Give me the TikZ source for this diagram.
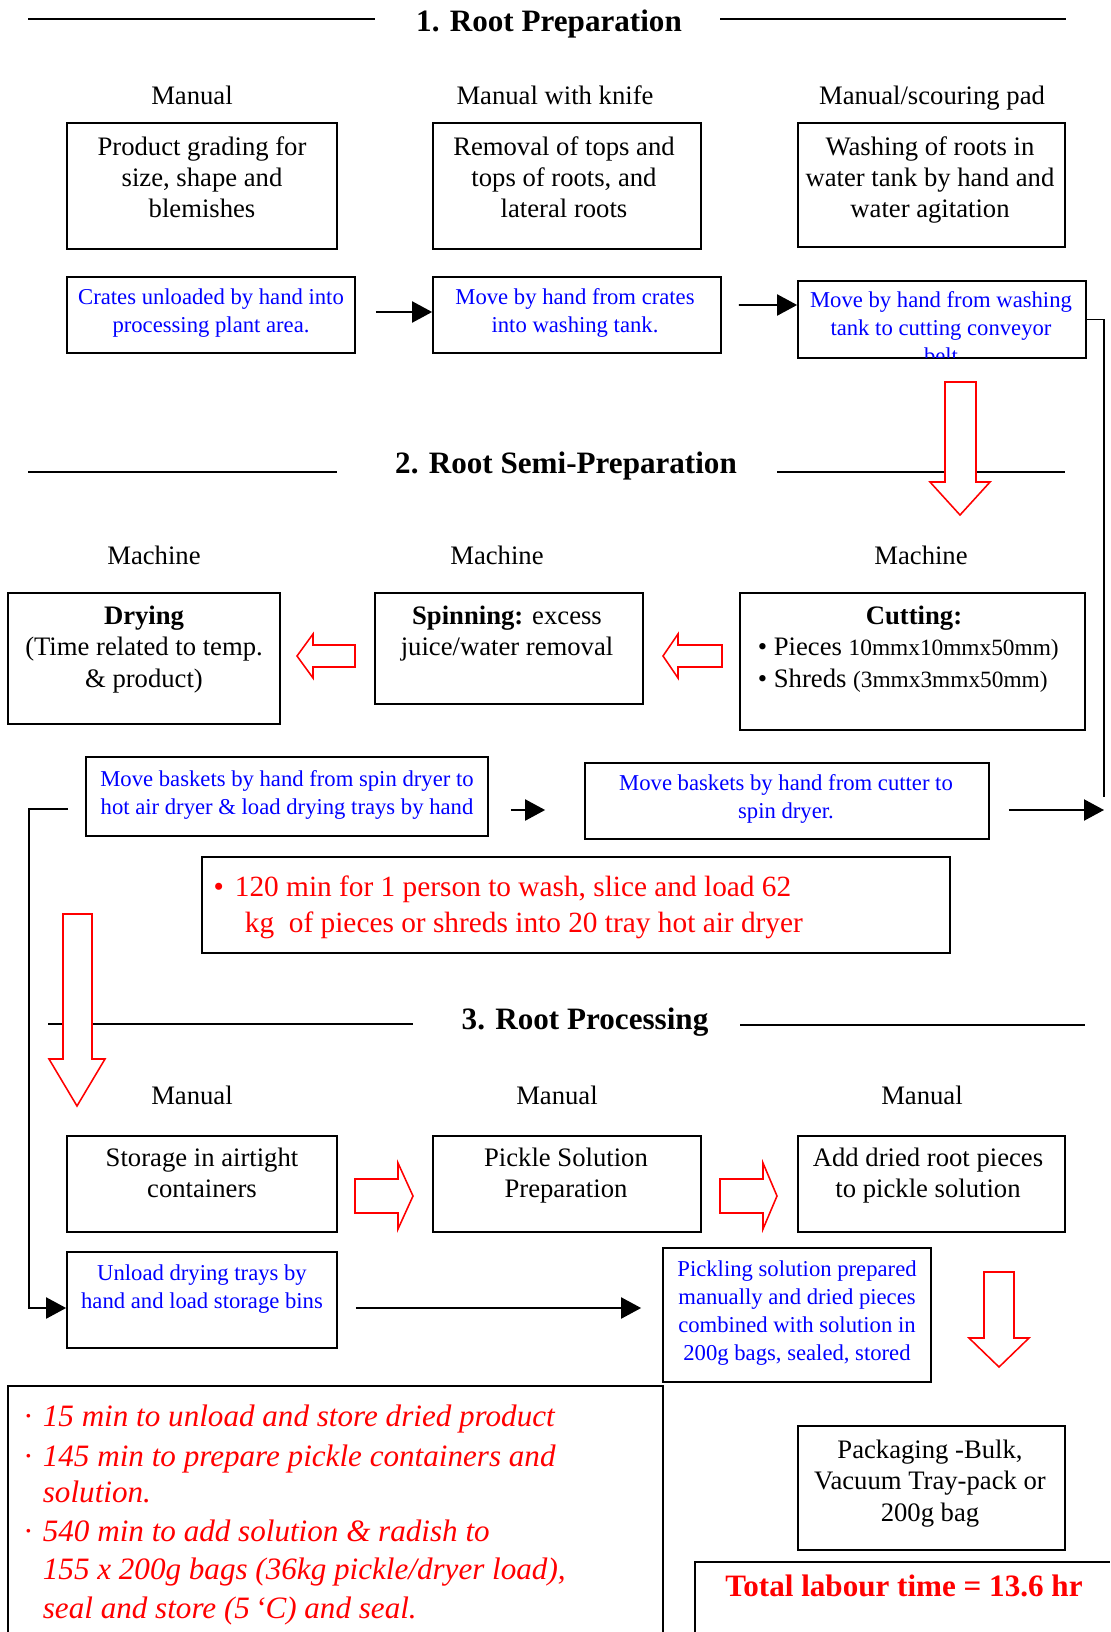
\documentclass[tikz,border=0pt]{standalone}
\usepackage{fontspec}
\setmainfont{Liberation Serif}
\usetikzlibrary{positioning,fit,calc,arrows.meta}

\begin{document}
\begin{tikzpicture}[x=0.45pt, y=-0.45pt, line width=0.8pt,
        box/.style = {draw, inner sep=0pt},
        arr/.style = {-{Triangle[length=9pt, width=9.5pt]}},
        hollow/.style = {draw=red, line width=0.7pt, fill=white},
        head/.style = {font=\fontsize{14}{16}\selectfont\bfseries, inner sep=0pt, anchor=base},
        tag/.style = {font=\fontsize{12}{14}\selectfont, inner sep=0pt, anchor=base},
        main/.style = {font=\fontsize{12}{14}\selectfont, align=center, inner sep=0pt, anchor=north, yshift=7.9pt, execute at begin node=\strut},
        move/.style = {font=\fontsize{10.2}{12.6}\selectfont, text=blue, align=center, inner sep=0pt, anchor=north, yshift=7.4pt, execute at begin node=\strut},
        note/.style = {text=red, align=left, inner sep=0pt, anchor=north west, execute at begin node=\strut}]

    \useasboundingbox (0,0) rectangle (1110,1632);

    \node[head] (sec1) at (549,32) {1. Root Preparation};
    \draw (28,19) -- (375,19);
    \draw (720,19) -- (1066,19);

    \node[tag] (how1) at (192,105) {Manual};
    \node[tag] (how2) at (555,105) {Manual with knife};
    \node[tag] (how3) at (932,105) {Manual/scouring pad};

    \node[box, fit={(67,123) (337,249)}] (grade) {};
    \node[box, fit={(433,123) (701,249)}] (tops) {};
    \node[box, fit={(798,123) (1065,247)}] (wash) {};
    \node[main] (gradet) at (202,153) {Product grading for\\size, shape and\\blemishes};
    \node[main] (topst) at (564,153) {Removal of tops and\\tops of roots, and\\lateral roots};
    \node[main] (washt) at (930,153) {Washing of roots in\\water tank by hand and\\water agitation};

    \node[box, fit={(67,277) (355,353)}] (crates) {};
    \node[box, fit={(433,277) (721,353)}] (tank) {};
    \node[box, fit={(798,281) (1086,358)}] (belt) {};
    \node[move] (cratest) at (211,304) {Crates unloaded by hand into\\processing plant area.};
    \node[move] (tankt) at (575,304) {Move by hand from crates\\into washing tank.};
    \begin{scope}
        \clip (belt.north west) rectangle ($(belt.south east)+(0,-1)$);
        \node[move] (beltt) at (941,307) {Move by hand from washing\\tank to cutting conveyor\\belt};
    \end{scope}

    \draw[arr] ($(crates.east)+(20,-3)$) -- ($(tank.west)+(0,-3)$);
    \draw[arr] ($(tank.east)+(17,-10)$) -- ($(belt.west)+(0,-14.5)$);
    \coordinate (rc) at (1104,797);
    \draw (belt.east) -| (rc);

    \node[head] (sec2) at (566,473) {2. Root Semi-Preparation};
    \draw (28,472) -- (337,472);
    \draw (777,472) -- (1065,472);
    \draw[hollow] (945,382) -- (976,382) -- (976,482) -- (990,482) -- (960,515) -- (930,482) -- (945,482) -- cycle;

    \node[tag] (mac1) at (154,564) {Machine};
    \node[tag] (mac2) at (497,564) {Machine};
    \node[tag] (mac3) at (921,564) {Machine};

    \node[box, fit={(8,593) (280,724)}] (dry) {};
    \node[box, fit={(375,593) (643,704)}] (spin) {};
    \node[box, fit={(740,593) (1085,730)}] (cut) {};
    \node[main] (dryt) at (144,623) {\textbf{Drying}\\(Time related to temp.\\\& product)};
    \node[main] (spint) at (507,623) {\textbf{Spinning:} excess\\juice/water removal};
    \node[tag, font=\fontsize{12}{14}\selectfont\bfseries] (cuth) at (914,624) {Cutting:};
    \node[main, align=left, anchor=north west] (cutt) at (773,655) {\llap{•\hspace{3pt}}Pieces {\fontsize{10.5}{14}\selectfont 10mmx10mmx50mm)}\\\llap{•\hspace{3pt}}Shreds {\fontsize{10.5}{14}\selectfont (3mmx3mmx50mm)}};

    \draw[hollow] (355,645) -- (313,645) -- (313,634) -- (297,656) -- (313,678) -- (313,667) -- (355,667) -- cycle;
    \draw[hollow] (722,645) -- (678,645) -- (678,634) -- (663,656) -- (678,678) -- (678,667) -- (722,667) -- cycle;

    \node[box, fit={(86,757) (488,836)}] (tohot) {};
    \node[box, fit={(585,763) (989,839)}] (tospin) {};
    \node[move] (tohott) at (287,786) {Move baskets by hand from spin dryer to\\hot air dryer \& load drying trays by hand};
    \node[move] (tospint) at (786,790) {Move baskets by hand from cutter to\\spin dryer.};

    \draw[arr] ($(tohot.east)+(22,13.5)$) -- ($(tospin.west)+(-39,9)$);
    \coordinate (rt) at (1104,810);
    \draw[arr] ($(tospin.east)+(19,9)$) -- (rt);

    \node[box, fit={(202,857) (950,953)}] (time1) {};
    \node[note, font=\fontsize{13.2}{16.2}\selectfont, yshift=9.47pt] (time1t) at (234,896) {\llap{•\hspace{5pt}}120 min for 1 person to wash, slice and load 62\\\hspace*{4.5pt}kg\ \ of pieces or shreds into 20 tray hot air dryer};

    \node[head] (sec3) at (585,1029) {3. Root Processing};
    \draw (48,1024) -- (413,1024);
    \draw (740,1025) -- (1085,1025);
    \draw[hollow] (63,914) -- (92,914) -- (92,1059) -- (105,1059) -- (77,1106) -- (49,1059) -- (63,1059) -- cycle;

    \node[tag] (hand1) at (192,1104) {Manual};
    \node[tag] (hand2) at (557,1104) {Manual};
    \node[tag] (hand3) at (922,1104) {Manual};

    \node[box, fit={(67,1136) (337,1232)}] (store) {};
    \node[box, fit={(433,1136) (701,1232)}] (pickle) {};
    \node[box, fit={(798,1136) (1065,1232)}] (add) {};
    \node[main] (storet) at (202,1165) {Storage in airtight\\containers};
    \node[main] (picklet) at (566,1165) {Pickle Solution\\Preparation};
    \node[main] (addt) at (928,1165) {Add dried root pieces\\to pickle solution};

    \draw[hollow] (355,1179) -- (398,1179) -- (398,1163) -- (413,1196) -- (398,1229) -- (398,1213) -- (355,1213) -- cycle;
    \draw[hollow] (720,1179) -- (763,1179) -- (763,1163) -- (777,1196) -- (763,1229) -- (763,1213) -- (720,1213) -- cycle;

    \node[box, fit={(67,1252) (337,1348)}] (unload) {};
    \node[box, fit={(663,1248) (931,1382)}] (bags) {};
    \node[move] (unloadt) at (202,1280) {Unload drying trays by\\hand and load storage bins};
    \node[move] (bagst) at (797,1276) {Pickling solution prepared\\manually and dried pieces\\combined with solution in\\200g bags, sealed, stored};

    \coordinate (lt) at (68,809);
    \draw[arr] (lt) -- (29,809) |- ($(unload.west)+(0,8)$);
    \draw[arr] ($(unload.east)+(18,8)$) -- ($(bags.west)+(-21,-7)$);
    \draw[hollow] (984,1272) -- (1014,1272) -- (1014,1338) -- (1029,1338) -- (999,1367) -- (969,1338) -- (984,1338) -- cycle;

    \draw (8,1632) -- (8,1386) -- (663,1386) -- (663,1632);
    \node[note, font=\fontsize{14}{16.6}\selectfont\itshape, yshift=8.3pt] (notes) at (42,1422) {\llap{·\hspace{5pt}}15 min to unload and store dried product\\[1.6pt]
        \llap{·\hspace{5pt}}145 min to prepare pickle containers and\\[-0.5pt]
        solution.\\[1.2pt]
        \llap{·\hspace{5pt}}540 min to add solution \& radish to\\[0.3pt]
        155 x 200g bags (36kg pickle/dryer load),\\[1.2pt]
        seal and store (5\,‘C) and seal.};

    \node[box, fit={(798,1426) (1065,1550)}] (pack) {};
    \node[main] (packt) at (930,1457) {Packaging -Bulk,\\Vacuum Tray-pack or\\200g bag};

    \draw (695,1632) -- (695,1562) -- (1110,1562);
    \node[head, text=red] (total) at (904,1596) {Total labour time = 13.6 hr};

\end{tikzpicture}
\end{document}
